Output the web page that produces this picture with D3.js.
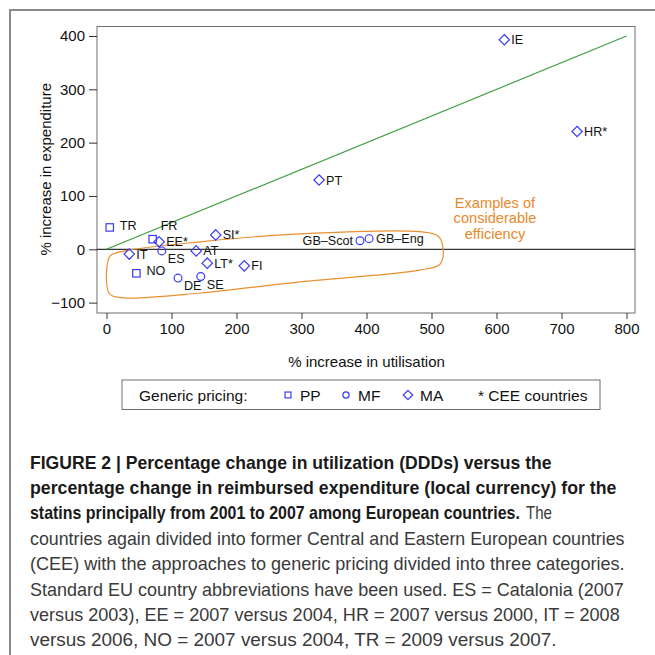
<!DOCTYPE html>
<html>
<head>
<meta charset="utf-8">
<script src="https://cdn.jsdelivr.net/npm/d3@7"></script>
<style>
  body { margin: 0; background: #fff; }
  svg { display: block; }
</style>
</head>
<body>
<svg id="chart" width="655" height="655"></svg>
<script>
// data
const countries   = ["TR", "FR", "EE*", "IT", "ES", "AT", "SI*", "LT*", "FI", "NO", "DE", "SE", "PT", "GB–Scot", "GB–Eng", "IE", "HR*"];
const utilisation = [5, 71, 81, 35, 85, 138, 168, 155, 212, 46, 110, 145, 327, 390, 404, 612, 724];
const expenditure = [41, 19, 14, -9, -3, -3, 27, -26, -31, -45, -54, -51, 130, 16, 20, 393, 221];
const pricing     = ["PP", "PP", "MA", "MA", "MF", "MA", "MA", "MA", "MA", "PP", "MF", "MF", "MA", "MF", "MF", "MA", "MA"];

const xTicks = [0, 100, 200, 300, 400, 500, 600, 700, 800];
const yTicks = [-100, 0, 100, 200, 300, 400];
const refLine = [[0, 0], [800, 400]];
const legendItems = ["PP", "MF", "MA"];

// outline of the "considerable efficiency" region, in data units
const effArea = [[0, -43], [6, -12], [28, -3], [144, 14], [298, 29], [482, 33], [510, 25],
                 [518, -1], [513, -28], [482, -39], [298, -61], [144, -82], [28, -91], [5, -84]];

// label placement (px offset of label centre from the marker)
const labelPos = {
  "TR": [10, -2], "FR": [8, -14], "EE*": [7, 0], "IT": [7, 0], "ES": [6, 8], "AT": [7, 0],
  "SI*": [7, 0], "LT*": [7, 0], "FI": [7, 0], "NO": [10, -3], "DE": [6, 7], "SE": [6, 8],
  "PT": [7, 0], "GB–Scot": [-7, 0], "GB–Eng": [7, 0], "IE": [7, 0], "HR*": [7, 0]
};

const svg = d3.select("#chart");
const font = "'Liberation Sans', Arial, Helvetica, sans-serif";
const blue = "#3b3bf5";

const frame = { left: 97, top: 26.5, right: 635, bottom: 313 };
const x = d3.scaleLinear().domain([0, 800]).range([106.5, 626.5]);
const y = d3.scaleLinear().domain([0, 400]).range([249.3, 36]);

// outer figure border (top and left)
svg.append("path")
  .attr("d", "M10,655V10H655")
  .attr("fill", "none").attr("stroke", "#8a8a8a").attr("stroke-width", 2);

// plot frame
svg.append("rect")
  .attr("x", frame.left).attr("y", frame.top)
  .attr("width", frame.right - frame.left).attr("height", frame.bottom - frame.top)
  .attr("fill", "none").attr("stroke", "#6e6e6e");

// axes
const xAxis = svg.append("g")
  .attr("transform", `translate(0,${frame.bottom})`)
  .call(d3.axisBottom(x).tickValues(xTicks).tickSize(6).tickPadding(4));
const yAxis = svg.append("g")
  .attr("transform", `translate(${frame.left},0)`)
  .call(d3.axisLeft(y).tickValues(yTicks).tickSize(8).tickPadding(4));
[xAxis, yAxis].forEach(g => {
  g.select(".domain").remove();
  g.selectAll("line").attr("stroke", "#333");
  g.selectAll("text").attr("font-family", font).attr("font-size", 15).attr("fill", "#111");
});

// zero line and reference line
svg.append("line")
  .attr("x1", frame.left).attr("x2", frame.right)
  .attr("y1", y(0)).attr("y2", y(0))
  .attr("stroke", "#000").attr("stroke-width", 1);

svg.append("path")
  .datum(refLine)
  .attr("d", d3.line().x(d => x(d[0])).y(d => y(d[1])))
  .attr("fill", "none").attr("stroke", "#3e9e3e").attr("stroke-width", 1.2);

// efficiency region
svg.append("path")
  .datum(effArea)
  .attr("d", d3.line().x(d => x(d[0])).y(d => y(d[1])).curve(d3.curveCatmullRomClosed.alpha(0.5)))
  .attr("fill", "none").attr("stroke", "#e8902f").attr("stroke-width", 1.2);

["Examples of", "considerable", "efficiency"].forEach((t, i) => {
  svg.append("text")
    .attr("x", 495).attr("y", 207.5 + i * 15.6)
    .attr("font-family", font).attr("font-size", 14.6).attr("fill", "#e8892a")
    .attr("text-anchor", "middle")
    .text(t);
});

// markers
function marker(g, type, s) {
  if (type === "PP") {
    g.append("rect").attr("x", -s * 0.37).attr("y", -s * 0.37)
      .attr("width", s * 0.74).attr("height", s * 0.74);
  } else if (type === "MF") {
    g.append("circle").attr("r", s * 0.39);
  } else {
    const h = s * 0.52;
    g.append("path").attr("d", `M0,${-h}L${h},0L0,${h}L${-h},0Z`);
  }
  g.attr("fill", "none").attr("stroke", blue).attr("stroke-width", 1.2);
}

const pts = svg.append("g").selectAll("g")
  .data(countries.map((c, i) => ({ c, x: utilisation[i], y: expenditure[i], t: pricing[i] })))
  .join("g")
  .attr("transform", d => `translate(${x(d.x)},${y(d.y)})`);
pts.each(function (d) { marker(d3.select(this).append("g"), d.t, 10); });
pts.append("text")
  .attr("x", d => labelPos[d.c][0])
  .attr("y", d => labelPos[d.c][1])
  .attr("dy", "0.36em")
  .attr("text-anchor", d => labelPos[d.c][0] < 0 ? "end" : "start")
  .attr("font-family", font).attr("font-size", 12.6).attr("fill", "#111")
  .text(d => d.c);

// axis titles
svg.append("text")
  .attr("x", x(400)).attr("y", 367)
  .attr("text-anchor", "middle")
  .attr("font-family", font).attr("font-size", 15).attr("fill", "#111")
  .text("% increase in utilisation");
svg.append("text")
  .attr("transform", `translate(51,${y(150)}) rotate(-90)`)
  .attr("text-anchor", "middle")
  .attr("font-family", font).attr("font-size", 15).attr("fill", "#111")
  .text("% increase in expenditure");

// legend
const leg = svg.append("g");
leg.append("rect").attr("x", 122).attr("y", 380).attr("width", 478).attr("height", 29.5)
  .attr("fill", "none").attr("stroke", "#6e6e6e");
const legText = (tx, t) => leg.append("text").attr("x", tx).attr("y", 400.5)
  .attr("font-family", font).attr("font-size", 15.5).attr("fill", "#111").text(t);
legText(139, "Generic pricing:");
legendItems.forEach((t, i) => {
  const cx = [288, 346, 408][i];
  marker(leg.append("g").attr("transform", `translate(${cx},395)`), t, t === "MA" ? 9 : 8);
  legText(cx + 12, t);
});
legText(478, "* CEE countries");

// caption: [text, bold, x start, width]
const captionLines = [
  [["FIGURE 2 | Percentage change in utilization (DDDs) versus the", true, 30, 522]],
  [["percentage change in reimbursed expenditure (local currency) for the", true, 30, 587]],
  [["statins principally from 2001 to 2007 among European countries.", true, 30, 490], ["The", false, 526, 26]],
  [["countries again divided into former Central and Eastern European countries", false, 30, 595]],
  [["(CEE) with the approaches to generic pricing divided into three categories.", false, 30, 595]],
  [["Standard EU country abbreviations have been used. ES = Catalonia (2007", false, 30, 594]],
  [["versus 2003), EE = 2007 versus 2004, HR = 2007 versus 2000, IT = 2008", false, 30, 590]],
  [["versus 2006, NO = 2007 versus 2004, TR = 2009 versus 2007.", false, 30, 527]]
];
const capFont = "'Liberation Sans Narrow', 'Liberation Sans', Arial, sans-serif";
captionLines.forEach((segs, i) => {
  segs.forEach(([t, bold, sx, w]) => {
    const g = svg.append("g").attr("transform", `translate(${sx},${468.5 + i * 25.4})`);
    const txt = g.append("text")
      .attr("font-family", capFont).attr("font-size", 17.5)
      .attr("font-weight", bold ? "bold" : "normal")
      .attr("fill", bold ? "#1a1a1a" : "#3a3a3a")
      .text(t);
    // squeeze horizontally to the condensed width of the original
    const natural = txt.node().getComputedTextLength();
    g.attr("transform", `translate(${sx},${468.5 + i * 25.4}) scale(${w / natural},1)`);
  });
});
</script>
</body>
</html>
